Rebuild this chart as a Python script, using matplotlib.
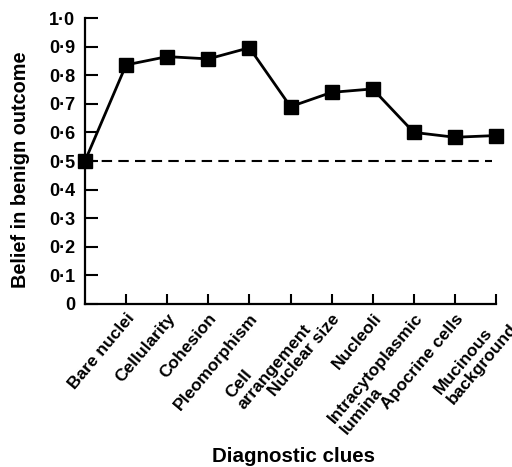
import matplotlib.pyplot as plt
import numpy as np

plt.rcParams['font.family'] = ['Liberation Sans', 'DejaVu Sans']

clues = ["Bare nuclei", "Cellularity", "Cohesion", "Pleomorphism",
         "Cell\narrangement", "Nuclear size", "Nucleoli",
         "Intracytoplasmic\nlumina", "Apocrine cells", "Mucinous\nbackground"]
# belief after each clue; first value is the prior before any clue
belief = [0.50, 0.836, 0.865, 0.857, 0.896, 0.690, 0.740, 0.752, 0.600, 0.583, 0.589]
prior_level = 0.5
y_ticks = [0, 0.1, 0.2, 0.3, 0.4, 0.5, 0.6, 0.7, 0.8, 0.9, 1.0]
y_labels = ["0", "0·1", "0·2", "0·3", "0·4", "0·5", "0·6", "0·7", "0·8", "0·9", "1·0"]

fig = plt.figure(figsize=(5.12, 4.67), dpi=100)
ax = fig.add_axes([85 / 512, 1 - 304 / 467, (496 - 85) / 512, (304 - 18) / 467])

x = np.arange(len(belief))
ax.plot([0, 9.9], [prior_level, prior_level], color='black', linestyle=(0, (5, 3)),
        linewidth=1.5, zorder=2)
ax.plot(x, belief, color='black', marker='s', markersize=9.5, linewidth=2.0,
        clip_on=False, zorder=3)

ax.set_xlim(0, len(clues))
ax.set_ylim(0, 1.0)
for s in ['top', 'right']:
    ax.spines[s].set_visible(False)
for s in ['left', 'bottom']:
    ax.spines[s].set_linewidth(1.6)

ax.set_yticks(y_ticks)
ax.set_yticklabels(y_labels, fontsize=13, fontweight='bold')
ax.set_xticks(x[1:])
ax.set_xticklabels(clues, fontsize=12.5, fontweight='bold', rotation=50,
                   ha='right', va='top', rotation_mode='anchor', multialignment='left',
                   linespacing=1.1)
ax.tick_params(axis='y', direction='in', length=9, width=1.5, pad=7)
ax.tick_params(axis='x', direction='in', length=7, width=1.5, pad=5)

fig.text(21 / 512, 1 - 170 / 467, "Belief in benign outcome", rotation=90,
         ha='center', va='center', fontsize=14.3, fontweight='bold')
fig.text(294 / 512, 1 - 457 / 467, "Diagnostic clues", ha='center', va='center',
         fontsize=14.8, fontweight='bold')

plt.savefig("out.png", dpi=100)
plt.close(fig)
